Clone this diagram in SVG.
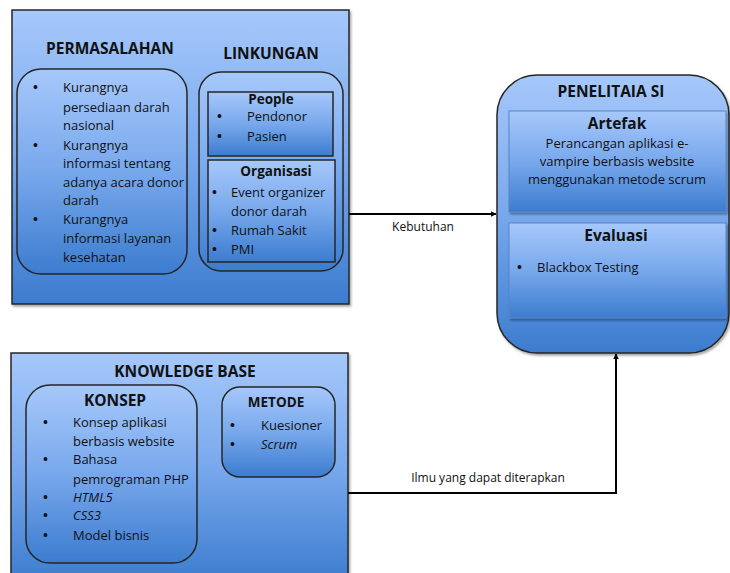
<svg xmlns="http://www.w3.org/2000/svg" width="730" height="573" viewBox="0 0 730 573">
  <defs>
    <linearGradient id="blueFill" x1="0" y1="0" x2="0" y2="1">
      <stop offset="0" stop-color="#a6c8fb"/>
      <stop offset="0.5" stop-color="#78a8ec"/>
      <stop offset="1" stop-color="#3c7ccf"/>
    </linearGradient>
    <filter id="shadow" x="-5%" y="-5%" width="110%" height="110%">
      <feDropShadow dx="1.5" dy="2" stdDeviation="1.2" flood-color="#000" flood-opacity="0.35"/>
    </filter>
    <marker id="arrow" viewBox="0 0 10 10" refX="9" refY="5" markerWidth="6" markerHeight="6" orient="auto-start-reverse" markerUnits="userSpaceOnUse">
      <path d="M0,0 L10,5 L0,10 z" fill="#000"/>
    </marker>
  </defs>
  <style>
    .box { fill: url(#blueFill); stroke: #262626; stroke-width: 1.5; filter: url(#shadow); }
    .inner { fill: url(#blueFill); stroke: #262626; stroke-width: 1.5; }
    .soft { fill: url(#blueFill); stroke: #5b86c0; stroke-width: 1; filter: url(#shadow); }
    text { font-family: "Open Sans", "Liberation Sans", sans-serif; fill: #111; }
    .t { font-size: 13px; }
    .b { font-size: 13px; font-weight: bold; }
    .h { font-size: 15.5px; font-weight: bold; text-anchor: middle; }
    .hs { font-size: 13.5px; font-weight: bold; text-anchor: middle; }
    .hl { font-size: 15.5px; font-weight: bold; text-anchor: middle; }
    .c { text-anchor: middle; }
    .i { font-style: italic; }
    .lbl { font-size: 12px; text-anchor: middle; }
    .line { fill: none; stroke: #000; stroke-width: 2; }
  </style>

  <!-- Problem area and environment -->
  <g id="permasalahan-lingkungan">
    <rect class="box" x="12" y="10" width="337" height="294"/>
    <text class="h" x="110" y="54">PERMASALAHAN</text>
    <text class="h" x="271" y="59">LINKUNGAN</text>
  </g>

  <g id="permasalahan">
    <rect class="inner" x="17" y="69" width="170" height="205" rx="24"/>
    <g class="t">
      <text class="b" x="33" y="92">•</text>
      <text x="63" y="92">Kurangnya</text>
      <text x="63" y="112">persediaan darah</text>
      <text x="63" y="130">nasional</text>
      <text class="b" x="33" y="150">•</text>
      <text x="63" y="150">Kurangnya</text>
      <text x="63" y="168">informasi tentang</text>
      <text x="63" y="187">adanya acara donor</text>
      <text x="63" y="205">darah</text>
      <text class="b" x="33" y="224">•</text>
      <text x="63" y="224">Kurangnya</text>
      <text x="63" y="243">informasi layanan</text>
      <text x="63" y="262">kesehatan</text>
    </g>
  </g>

  <g id="lingkungan">
    <rect class="inner" x="199" y="72" width="144" height="199" rx="22"/>
  </g>

  <g id="people">
    <rect class="inner" x="208" y="92" width="125" height="64"/>
    <text class="hs" x="271" y="104">People</text>
    <g class="t">
      <text class="b" x="217" y="121">•</text>
      <text x="247" y="121">Pendonor</text>
      <text class="b" x="217" y="141">•</text>
      <text x="247" y="141">Pasien</text>
    </g>
  </g>

  <g id="organisasi">
    <rect class="inner" x="208" y="160" width="127" height="102"/>
    <text class="hs" x="276" y="176">Organisasi</text>
    <g class="t">
      <text class="b" x="212" y="197">•</text>
      <text x="231" y="197">Event organizer</text>
      <text x="231" y="216">donor darah</text>
      <text class="b" x="212" y="235">•</text>
      <text x="231" y="235">Rumah Sakit</text>
      <text class="b" x="212" y="254">•</text>
      <text x="231" y="254">PMI</text>
    </g>
  </g>

  <!-- Research -->
  <g id="penelitian-si">
    <rect class="box" x="497" y="75" width="232" height="278" rx="40"/>
    <text class="h" x="611" y="97">PENELITAIA SI</text>
  </g>

  <g id="artefak">
    <rect class="soft" x="509" y="111" width="217" height="101"/>
    <text class="hl" x="617" y="129">Artefak</text>
    <g class="t c">
      <text x="617" y="148">Perancangan aplikasi e-</text>
      <text x="617" y="166">vampire berbasis website</text>
      <text x="617" y="184">menggunakan metode scrum</text>
    </g>
  </g>

  <g id="evaluasi">
    <rect class="soft" x="509" y="223" width="217" height="95"/>
    <text class="hl" x="616" y="241">Evaluasi</text>
    <g class="t">
      <text class="b" x="517" y="272">•</text>
      <text x="537" y="272">Blackbox Testing</text>
    </g>
  </g>

  <!-- Knowledge base -->
  <g id="knowledge-base">
    <rect class="box" x="11" y="353" width="337" height="230"/>
    <text class="h" x="185" y="377">KNOWLEDGE BASE</text>
  </g>

  <g id="konsep">
    <rect class="inner" x="26" y="385" width="171" height="178" rx="24"/>
    <text class="h" x="115" y="406">KONSEP</text>
    <g class="t">
      <text class="b" x="43" y="427">•</text>
      <text x="73" y="427">Konsep aplikasi</text>
      <text x="73" y="446">berbasis website</text>
      <text class="b" x="43" y="464">•</text>
      <text x="73" y="464">Bahasa</text>
      <text x="73" y="484">pemrograman PHP</text>
      <text class="b" x="43" y="502">•</text>
      <text class="i" x="73" y="502">HTML5</text>
      <text class="b" x="43" y="520">•</text>
      <text class="i" x="73" y="520">CSS3</text>
      <text class="b" x="43" y="540">•</text>
      <text x="73" y="540">Model bisnis</text>
    </g>
  </g>

  <g id="metode">
    <rect class="inner" x="222" y="387" width="113" height="90" rx="18"/>
    <text class="hs" x="276" y="407">METODE</text>
    <g class="t">
      <text class="b" x="230" y="430">•</text>
      <text x="261" y="430">Kuesioner</text>
      <text class="b" x="230" y="449">•</text>
      <text class="i" x="261" y="449">Scrum</text>
    </g>
  </g>

  <!-- Connectors -->
  <g id="connectors">
    <line class="line" x1="349" y1="214" x2="496" y2="214" marker-end="url(#arrow)"/>
    <text class="lbl" x="423" y="231">Kebutuhan</text>
    <polyline class="line" points="348,493 616,493 616,354" marker-end="url(#arrow)"/>
    <text class="lbl" x="488" y="482">Ilmu yang dapat diterapkan</text>
  </g>
</svg>
